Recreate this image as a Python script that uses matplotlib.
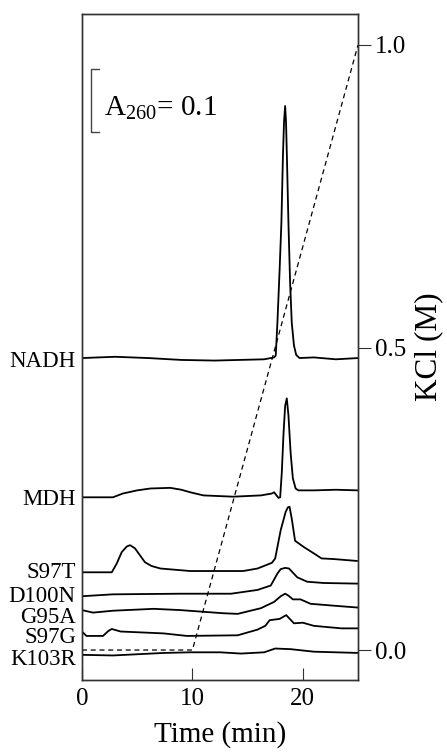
import matplotlib.pyplot as plt

plt.rcParams['font.family'] = ['Liberation Serif', 'DejaVu Serif']
plt.rcParams['mathtext.fontset'] = 'custom'
plt.rcParams['mathtext.rm'] = 'Liberation Serif'

# elution traces: time (min) and A260 relative to each trace's own baseline
names = ['NADH', 'MDH', 'S97T', 'D100N', 'G95A', 'S97G', 'K103R']
baselines = [0.511, 0.290, 0.171, 0.133, 0.108, 0.070, 0.040]
label_y = [0.506, 0.286, 0.171, 0.132, 0.100, 0.068, 0.032]

t_nadh = [0, 3, 6, 9, 12, 16.5, 17.4, 17.55, 17.7, 17.9, 18.06, 18.2, 18.3, 18.4, 18.48, 18.56, 18.7, 18.85, 19.0, 19.2, 19.4, 19.7, 21, 23, 25]
a_nadh = [0, 0.002, 0.0, -0.003, -0.004, -0.002, 0.001, 0.004, 0.056, 0.14, 0.214, 0.32, 0.375, 0.40, 0.375, 0.32, 0.214, 0.12, 0.056, 0.02, 0.005, 0.0, 0.001, -0.002, 0.0]

t_mdh = [0, 2.8, 3.7, 5.0, 6.2, 8.0, 9.0, 9.8, 11, 13.7, 16.2, 17.2, 17.4, 17.8, 17.95, 18.1, 18.25, 18.4, 18.55, 18.7, 18.9, 19.1, 19.35, 19.6, 21, 23, 25]
a_mdh = [0, 0, 0.006, 0.011, 0.014, 0.015, 0.012, 0.008, 0.003, 0.001, 0.003, 0.006, 0.008, -0.001, 0.0, 0.04, 0.10, 0.145, 0.157, 0.13, 0.07, 0.03, 0.014, 0.011, 0.011, 0.012, 0.011]

t_s97t = [0, 2.7, 3.15, 3.6, 4.06, 4.36, 4.8, 5.25, 5.7, 6.3, 7.1, 9.8, 14.6, 15.9, 17.2, 17.5, 18.0, 18.45, 18.65, 18.8, 19.0, 19.3, 20.1, 21.0, 21.7, 22.8, 24.9]
a_s97t = [0, 0, 0.014, 0.032, 0.041, 0.043, 0.038, 0.027, 0.016, 0.010, 0.006, 0.002, 0.002, 0.006, 0.015, 0.022, 0.067, 0.096, 0.103, 0.104, 0.085, 0.050, 0.040, 0.030, 0.022, 0.021, 0.018]

t_d100n = [0, 2.8, 8.9, 13.5, 15.9, 17.1, 17.7, 18.0, 18.4, 18.75, 19.5, 20.4, 21.9, 25]
a_d100n = [0, 0.003, 0.004, 0.004, 0.010, 0.017, 0.036, 0.043, 0.045, 0.044, 0.030, 0.023, 0.021, 0.020]

t_g95a = [0, 1.0, 2.8, 6.5, 8.9, 12.8, 14.1, 16.2, 17.4, 18.0, 18.4, 18.7, 19.1, 19.8, 20.7, 22.8, 25]
a_g95a = [0.003, -0.001, 0.002, 0.005, 0.003, -0.002, -0.003, 0.006, 0.016, 0.025, 0.029, 0.026, 0.020, 0.020, 0.013, 0.010, 0.007]

t_s97g = [0, 0.4, 1.9, 2.4, 2.7, 3.5, 7.4, 9.5, 14.1, 15.9, 16.6, 17.0, 17.9, 18.5, 19.2, 20.0, 21.0, 23.5, 25]
a_s97g = [0.007, 0.0, 0.0, 0.008, 0.011, 0.007, 0.004, 0.0, 0.001, 0.010, 0.016, 0.025, 0.027, 0.033, 0.020, 0.021, 0.016, 0.012, 0.012]

t_k103r = [0, 2.8, 7.4, 9.8, 12.5, 14.4, 16.5, 17.5, 18.9, 21, 25]
a_k103r = [0, -0.001, 0.003, 0.004, 0.004, 0.002, 0.004, 0.010, 0.009, 0.005, 0.003]

traces_t = [t_nadh, t_mdh, t_s97t, t_d100n, t_g95a, t_s97g, t_k103r]
traces_a = [a_nadh, a_mdh, a_s97t, a_d100n, a_g95a, a_s97g, a_k103r]

# KCl gradient
grad_t = [0, 10, 25]
grad_kcl = [0.0, 0.0, 1.0]

fig = plt.figure(figsize=(4.47, 7.53), dpi=100)
ax = fig.add_axes([0.1834, 0.0969, 0.6175, 0.8845])

for t, a, base in zip(traces_t, traces_a, baselines):
    ax.plot(t, [v + base for v in a], color='black', lw=1.3, solid_joinstyle='round')

for name, y in zip(names, label_y):
    ax.text(-0.022, y, name, transform=ax.get_yaxis_transform(),
            ha='right', va='center', fontsize=16.5)

# scale bar
ax.plot([1.52, 0.79, 0.79, 1.52], [0.970, 0.970, 0.870, 0.870], color='#444444', lw=1.0)
ax.text(1.95, 0.897, r'$\mathrm{A}_{260}$= 0.1', fontsize=21, ha='left', va='baseline')

ax.set_xlim(0, 25)
ax.set_ylim(0, 1.057)
ax.set_yticks([])
ax.set_xticks([0, 10, 20])
ax.tick_params(axis='x', direction='in', length=9, labelsize=18, pad=6, color='#333333')
ax.set_xlabel('Time (min)', fontsize=21, labelpad=8)
for s in ax.spines.values():
    s.set_color('#333333')
    s.set_linewidth(1.0)

ax2 = ax.twinx()
ax2.plot(grad_t, grad_kcl, color='black', lw=0.9, ls=(0, (4, 3)))
ax2.set_ylim(-0.0496, 1.0512)
ax2.set_yticks([0.0, 0.5, 1.0])
ax2.set_yticklabels(['0.0', '0.5', '1.0'])
ax2.tick_params(axis='y', direction='out', length=9, labelsize=18, pad=3, color='#333333')
ax2.set_ylabel('KCl (M)', fontsize=22.5, labelpad=6)
for s in ax2.spines.values():
    s.set_color('#333333')
    s.set_linewidth(1.0)

fig.savefig('out.png', dpi=100)
